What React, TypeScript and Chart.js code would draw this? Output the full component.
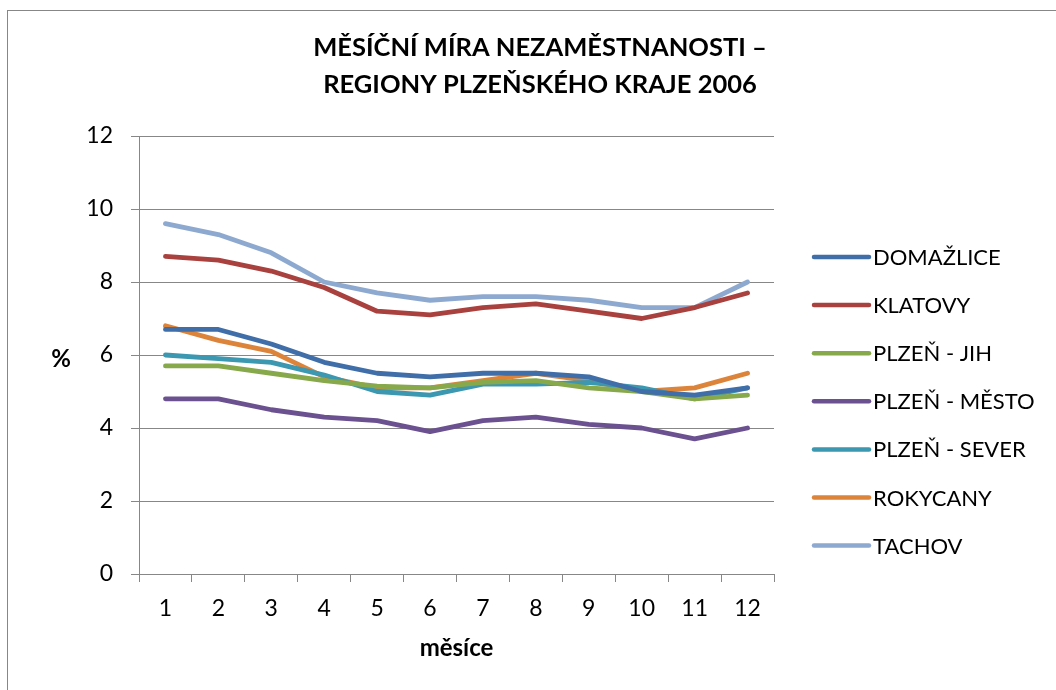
import React, { useEffect, useRef } from "react";
import { Chart, registerables } from "chart.js";

Chart.register(...registerables);

const months = ["1", "2", "3", "4", "5", "6", "7", "8", "9", "10", "11", "12"];
const yTicks = [0, 2, 4, 6, 8, 10, 12];

const domazlice = [6.7, 6.7, 6.3, 5.8, 5.5, 5.4, 5.5, 5.5, 5.4, 5.0, 4.9, 5.1];
const klatovy = [8.7, 8.6, 8.3, 7.85, 7.2, 7.1, 7.3, 7.4, 7.2, 7.0, 7.3, 7.7];
const plzenJih = [5.7, 5.7, 5.5, 5.3, 5.15, 5.1, 5.25, 5.3, 5.1, 5.0, 4.8, 4.9];
const plzenMesto = [4.8, 4.8, 4.5, 4.3, 4.2, 3.9, 4.2, 4.3, 4.1, 4.0, 3.7, 4.0];
const plzenSever = [6.0, 5.9, 5.8, 5.45, 5.0, 4.9, 5.2, 5.2, 5.25, 5.1, 4.8, 5.1];
const rokycany = [6.8, 6.4, 6.1, 5.4, 5.1, 5.1, 5.3, 5.5, 5.3, 5.0, 5.1, 5.5];
const tachov = [9.6, 9.3, 8.8, 8.0, 7.7, 7.5, 7.6, 7.6, 7.5, 7.3, 7.3, 8.0];

const seriesNames = ["DOMAŽLICE", "KLATOVY", "PLZEŇ - JIH", "PLZEŇ - MĚSTO", "PLZEŇ - SEVER", "ROKYCANY", "TACHOV"];
const seriesValues = [domazlice, klatovy, plzenJih, plzenMesto, plzenSever, rokycany, tachov];
const seriesColors = ["#3F6EA8", "#A9413E", "#87A84B", "#6B5190", "#3C97B0", "#DD843B", "#8EA9D0"];

const titleLines = ["MĚSÍČNÍ MÍRA NEZAMĚSTNANOSTI –", "REGIONY PLZEŇSKÉHO KRAJE 2006"];
const xTitle = "měsíce";
const yTitle = "%";

const FONT = "Lato, 'Open Sans', sans-serif";
const GRAY = "#878787";

const decorPlugin = {
  id: "decor",
  beforeDraw(chart: any) {
    const ctx = chart.ctx;
    ctx.save();
    ctx.fillStyle = "#ffffff";
    ctx.fillRect(0, 0, chart.width, chart.height);
    ctx.strokeStyle = GRAY;
    ctx.lineWidth = 1;
    ctx.strokeRect(7.5, 10.5, chart.width + 20, chart.height + 20);
    ctx.restore();
  },
  afterDraw(chart: any) {
    const ctx = chart.ctx;
    const area = chart.chartArea;
    ctx.save();
    ctx.fillStyle = "#000000";
    ctx.textAlign = "center";
    ctx.textBaseline = "middle";
    ctx.font = `bold 25.5px ${FONT}`;
    ctx.fillText(titleLines[0], 540, 48);
    ctx.fillText(titleLines[1], 540, 85);

    ctx.font = `bold 24px ${FONT}`;
    ctx.fillText(xTitle, (area.left + area.right) / 2, 648);
    ctx.fillText(yTitle, 61, 359);

    // legend
    ctx.font = `22px ${FONT}`;
    ctx.textAlign = "left";
    seriesNames.forEach((name, i) => {
      const y = 257 + i * 48.1;
      ctx.strokeStyle = seriesColors[i];
      ctx.lineWidth = 4.5;
      ctx.lineCap = "round";
      ctx.beginPath();
      ctx.moveTo(area.right + 40, y);
      ctx.lineTo(area.right + 95, y);
      ctx.stroke();
      ctx.fillStyle = "#000000";
      ctx.fillText(name, area.right + 99, y + 1);
    });
    ctx.restore();
  },
};

export default function App() {
  const ref = useRef<HTMLCanvasElement | null>(null);
  useEffect(() => {
    if (!ref.current) return;
    const chart = new Chart(ref.current, {
      type: "line",
      data: {
        labels: months,
        datasets: seriesNames.map((name, i) => ({
          label: name,
          data: seriesValues[i],
          borderColor: seriesColors[i],
          backgroundColor: seriesColors[i],
          borderWidth: 4.8,
          pointRadius: 0,
          tension: 0,
          borderCapStyle: "round" as const,
          borderJoinStyle: "round" as const,
        })),
      },
      options: {
        responsive: false,
        animation: false,
        layout: { padding: { left: 79, right: 282, top: 136, bottom: 0 } },
        plugins: {
          legend: { display: false },
          title: { display: false },
          tooltip: { enabled: false },
        },
        scales: {
          x: {
            type: "category",
            offset: true,
            afterFit: (s: any) => {
              s.height = 116;
            },
            grid: {
              offset: true,
              drawOnChartArea: false,
              tickLength: 8,
              color: GRAY,
              lineWidth: 1,
            },
            border: { display: true, color: GRAY, width: 1 },
            ticks: {
              color: "#000000",
              padding: 13,
              font: { family: FONT, size: 23 },
              maxRotation: 0,
            },
          },
          y: {
            min: 0,
            max: 12,
            afterFit: (s: any) => {
              s.width = 60;
            },
            afterBuildTicks: (s: any) => {
              s.ticks = yTicks.map((v) => ({ value: v }));
            },
            grid: {
              tickLength: 8,
              color: GRAY,
              lineWidth: 1,
            },
            border: { display: true, color: GRAY, width: 1 },
            ticks: {
              color: "#000000",
              padding: 18,
              font: { family: FONT, size: 23 },
            },
          },
        },
      },
      plugins: [decorPlugin],
    });
    return () => chart.destroy();
  }, []);
  return (
    <div style={{ position: "fixed", left: 0, top: 0, width: 1056, height: 690, overflow: "hidden", background: "#fff" }}>
      <canvas ref={ref} width={1056} height={690} style={{ display: "block" }} />
    </div>
  );
}
